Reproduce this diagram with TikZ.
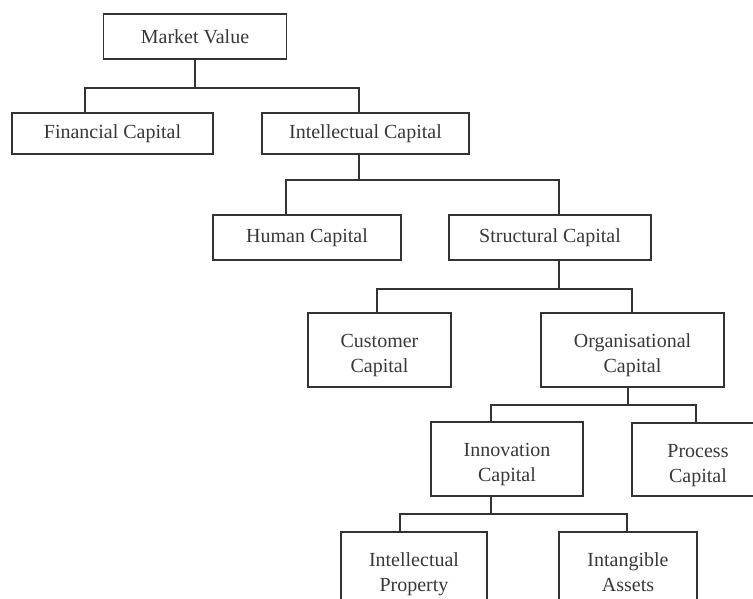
\documentclass[tikz,border=0pt]{standalone}
\usepackage{fontspec}
\setmainfont{Liberation Serif}
\usepackage{tikz}

% struts that put two-line labels where the reference has them
\newcommand{\topstrut}{\rule{0pt}{24.5pt}}
\newcommand{\botstrut}{\rule[-4.5pt]{0pt}{4.5pt}}

\begin{document}
\begin{tikzpicture}[x=1pt,y=1pt,
		capbox/.style={rectangle,draw=black!80,line width=1.5pt,text=black!78,
			align=center,inner sep=0pt,font=\fontsize{20}{25}\selectfont},
		link/.style={draw=black!80,line width=1.5pt}
		]
		\useasboundingbox (0,0) rectangle (753,-598);
		\clip (0,0) rectangle (753,-598);
		
		\node[capbox, minimum width=183, minimum height=45](MV) at (195,-36.5){Market Value};
		\node[capbox, minimum width=201, minimum height=41](FC) at (112.5,-133.5){Financial Capital};
		\node[capbox, minimum width=207, minimum height=41](IC) at (365.5,-133.5){Intellectual Capital};
		\node[capbox, minimum width=188, minimum height=45](HC) at (307,-237.5){Human Capital};
		\node[capbox, minimum width=202, minimum height=45](SC) at (550,-237.5){Structural Capital};
		\node[capbox, minimum width=143, minimum height=74](CC) at (379.5,-350){\topstrut Customer\\Capital\botstrut};
		\node[capbox, minimum width=183, minimum height=74](OC) at (632.5,-350){\topstrut Organisational\\Capital\botstrut};
		\node[capbox, minimum width=152, minimum height=74](InC) at (507,-459){\topstrut Innovation\\Capital\botstrut};
		\node[capbox, minimum width=132, minimum height=73](PC) at (698,-459.5){\topstrut Process\\Capital\botstrut};
		\node[capbox, minimum width=146, minimum height=74](IP) at (414,-569){\topstrut Intellectual\\Property\botstrut};
		\node[capbox, minimum width=138, minimum height=74](IA) at (628,-569){\topstrut Intangible\\Assets\botstrut};
		
		\draw[link] (MV.south) -- ++(0,-28) -| ([xshift=-27.5]FC.north);
		\draw[link] (MV.south) -- ++(0,-28) -| ([xshift=-6.5]IC.north);
		\draw[link] ([xshift=-6.5]IC.south) -- ++(0,-25) -| ([xshift=-21]HC.north);
		\draw[link] ([xshift=-6.5]IC.south) -- ++(0,-25) -| ([xshift=9]SC.north);
		\draw[link] ([xshift=9]SC.south) -- ++(0,-28) -| ([xshift=-2.5]CC.north);
		\draw[link] ([xshift=9]SC.south) -- ++(0,-28) -| ([xshift=-0.5]OC.north);
		\draw[link] ([xshift=-4.5]OC.south) -- ++(0,-17) -| ([xshift=-16]InC.north);
		\draw[link] ([xshift=-4.5]OC.south) -- ++(0,-17) -| ([xshift=-2]PC.north);
		\draw[link] ([xshift=-16]InC.south) -- ++(0,-17) -| ([xshift=-14]IP.north);
		\draw[link] ([xshift=-16]InC.south) -- ++(0,-17) -| ([xshift=-1]IA.north);
	\end{tikzpicture}
\end{document}
